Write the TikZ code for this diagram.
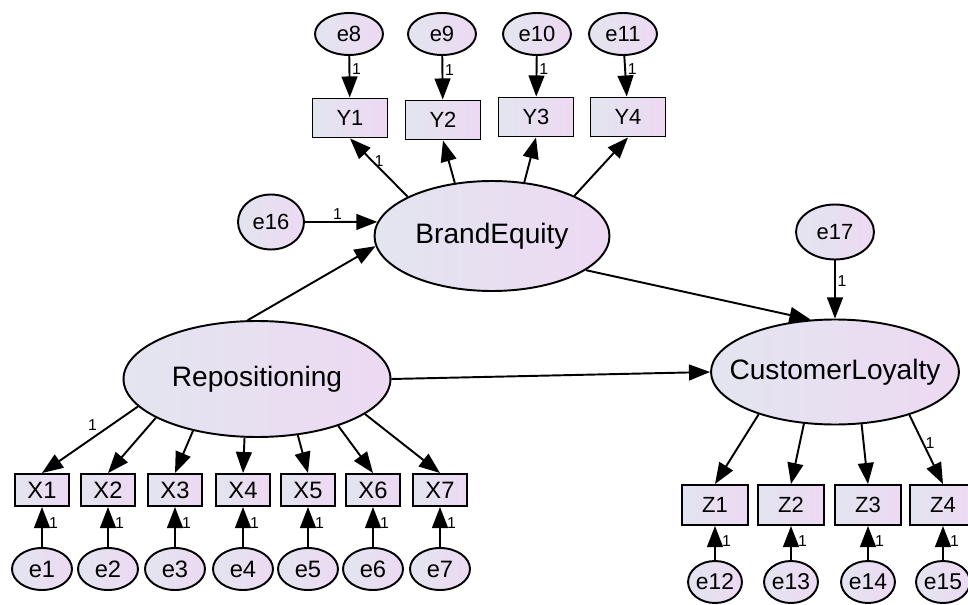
\documentclass[tikz,border=0pt]{standalone}
\usepackage{fontspec}
\setmainfont{Liberation Sans}
\usetikzlibrary{shapes.geometric, arrows.meta}

\definecolor{amosleft}{RGB}{227,229,240}
\definecolor{amosright}{RGB}{237,217,242}

\tikzset{
    latent/.style={ellipse, draw, line width=1.1pt, left color=amosleft, right color=amosright, inner sep=0pt, font=\fontsize{16}{18}\selectfont},
    errvar/.style={ellipse, draw, line width=1.1pt, left color=amosleft, right color=amosright, inner sep=0pt, minimum width=1.36cm, minimum height=0.84cm, font=\fontsize{12.5}{14}\selectfont},
    observed/.style={rectangle, draw, line width=1.1pt, left color=amosleft, right color=amosright, inner sep=0pt, font=\fontsize{12.5}{14}\selectfont},
    reg/.style={-{Triangle[length=12pt,width=9pt]}, line width=1.1pt},
    one/.style={font=\fontsize{9}{10}\selectfont, inner sep=1pt},
}

\begin{document}
\begin{tikzpicture}[x=0.02cm, y=-0.02cm]
    \useasboundingbox (0,0) rectangle (968,605);

    % latent variables
    \node[latent, minimum width=4.7cm, minimum height=2.2cm] (BE) at (492,236) {\makebox[0pt]{BrandEquity}};
    \node[latent, minimum width=5.34cm, minimum height=2.32cm] (Rep) at (257,379) {\makebox[0pt]{Repositioning}};
    \node[latent, minimum width=4.96cm, minimum height=2.1cm] (CL) at (835,372) {\makebox[0pt]{CustomerLoyalty}};

    % disturbances
    \node[errvar, minimum width=1.32cm, minimum height=1.1cm] (e16) at (271,222) {e16};
    \node[errvar, minimum width=1.56cm, minimum height=1.1cm] (e17) at (835,232) {e17};

    % BrandEquity indicators
    \foreach \i/\ex/\yx/\yy [count=\k from 8] in {1/349/350/118, 2/442/443/120, 3/537/536/117, 4/623/628/117} {
        \node[observed, minimum width=1.5cm, minimum height=0.78cm] (Y\i) at (\yx,\yy) {Y\i};
        \node[errvar] (e\k) at (\ex,34) {e\k};
        \draw[reg] (e\k) -- node[one, right, pos=0.32] {1} (Y\i);
    }
    \draw[reg] (BE.155) -- node[one, right, pos=0.62] {1} (Y1.south);
    \draw[reg] (BE.125) -- (Y2.south);
    \draw[reg] (BE.59) -- (Y3.south);
    \draw[reg] (BE.26) -- (Y4.south);

    % Repositioning indicators
    \foreach \i/\xx in {1/42, 2/108, 3/175, 4/243, 5/308, 6/373, 7/440} {
        \node[observed, minimum width=1.08cm, minimum height=0.64cm, font=\fontsize{13.5}{15}\selectfont] (X\i) at (\xx,490) {X\i};
        \node[errvar, minimum width=1.2cm, minimum height=0.84cm, font=\fontsize{13.5}{15}\selectfont] (e\i) at (\xx,569) {e\i};
        \draw[reg] (e\i) -- node[one, right, pos=0.6, xshift=2.5pt] {1} (X\i);
    }
    \draw[reg] (Rep.193) -- node[one, above left, pos=0.4] {1} (X1.north);
    \foreach \i/\a in {2/201, 3/219, 4/258, 5/306, 6/330, 7/342}
        \draw[reg] (Rep.\a) -- (X\i.north);

    % CustomerLoyalty indicators
    \foreach \i/\xx [count=\k from 12] in {1/715, 2/791, 3/868, 4/943} {
        \node[observed, minimum width=1.32cm, minimum height=0.8cm] (Z\i) at (\xx,505) {Z\i};
        \node[errvar, minimum width=0.96cm, minimum height=0.84cm, font=\fontsize{13}{15}\selectfont] (e\k) at (\xx,582) {e\k};
        \draw[reg] (e\k) -- node[one, right, pos=0.55, xshift=2.5pt] {1} (Z\i);
    }
    \draw[reg] (CL.209) -- (Z1.north);
    \draw[reg] (CL.239) -- (Z2.north);
    \draw[reg] (CL.297) -- (Z3.north);
    \draw[reg] (CL.330) -- node[one, right, pos=0.4] {1} (Z4.north);

    % structural paths
    \draw[reg] (e16.east) -- node[one, above, pos=0.45] {1} (BE.173);
    \draw[reg] (e17.south) -- node[one, right, pos=0.35] {1} (CL.north);
    \draw[reg] (Rep.99) -- (BE.185);
    \draw[reg] (Rep.east) -- (CL.west);
    \draw[reg] (BE.-20) -- (CL.115);
\end{tikzpicture}
\end{document}
